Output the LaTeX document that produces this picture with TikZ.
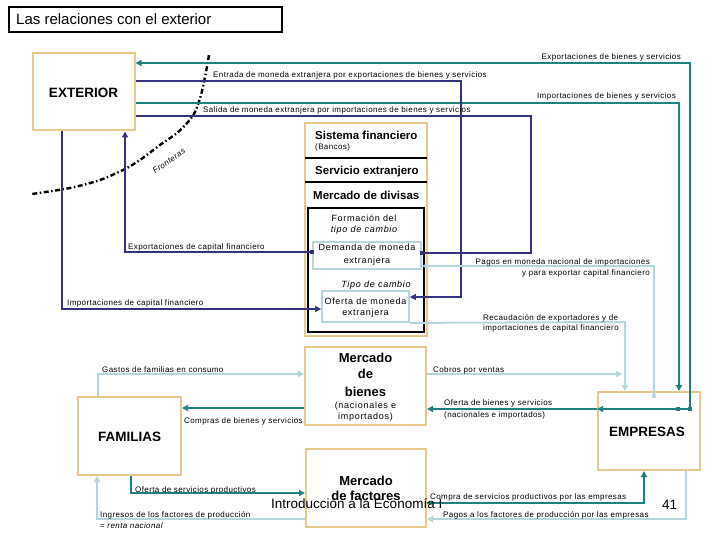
\documentclass[tikz,border=0pt]{standalone}
\usepackage{fontspec}
\setmainfont{Liberation Sans}
\newfontfamily\lblfont[LetterSpace=5]{Liberation Sans}
\newfontfamily\midfont[LetterSpace=8]{Liberation Sans}
\usetikzlibrary{arrows.meta}
\definecolor{tanc}{RGB}{232,200,140}
\definecolor{tealc}{RGB}{32,128,128}
\definecolor{navyc}{RGB}{51,51,128}
\definecolor{lbluec}{RGB}{182,214,222}
\newcommand\lblsz{\lblfont\fontsize{8}{9}\selectfont}
\newcommand\midsz{\midfont\fontsize{9}{11}\selectfont}
\newcommand\bigb{\bfseries\fontsize{13.5}{16}\selectfont}
\newcommand\sisb{\bfseries\fontsize{11.5}{14}\selectfont}
\tikzset{
  tanbox/.style={draw=tanc, line width=2pt, fill=white, inner sep=0pt},
  bluebox/.style={draw=lbluec, line width=1.8pt, fill=white, inner sep=0pt},
  tline/.style={draw=tealc, line width=2.4pt},
  nline/.style={draw=navyc, line width=2.4pt},
  bline/.style={draw=lbluec, line width=2pt},
  lab/.style={font=\lblsz, inner sep=0pt},
  sq/.style={minimum size=4.5pt, inner sep=0pt},
  frontier/.style={draw=black, line width=2.4pt, dash pattern=on 5pt off 2.5pt on 1.5pt off 2.5pt}
}
\begin{document}
\begin{tikzpicture}[x=1pt,y=-1pt,>={Triangle[length=6pt,width=6pt]}]
\useasboundingbox (0,0) rectangle (720,540);
\fill[white] (0,0) rectangle (720,540);

% title
\node[draw=black, line width=1.8pt, minimum width=273pt, minimum height=25pt, anchor=north west, inner sep=0pt] (title) at (8,6) {};
\node[anchor=base west, inner sep=0pt, font=\fontsize{15}{18}\selectfont] (titleT) at (16,25) {Las relaciones con el exterior};

% boxes
\node[tanbox, minimum width=102pt, minimum height=77pt] (ext) at (83.5,92) {};
\node[anchor=base, inner sep=0pt, font=\bigb] (extT) at (83.5,97.3) {EXTERIOR};

\node[tanbox, minimum width=122pt, minimum height=213pt] (sis) at (366,229.5) {};
\draw[black, line width=2pt] (305,158) -- (427,158);
\draw[black, line width=2pt] (305,182) -- (427,182);
\node[anchor=base west, inner sep=0pt, font=\sisb] (sisT) at (315,139.5) {Sistema financiero};
\node[anchor=base west, inner sep=0pt, font=\lblfont\fontsize{8}{9}\selectfont] (banT) at (315,149.5) {(Bancos)};
\node[anchor=base west, inner sep=0pt, font=\sisb] (serT) at (315,175) {Servicio extranjero};
\node[anchor=base west, inner sep=0pt, font=\sisb] (mdT) at (313,200) {Mercado de divisas};

\node[draw=black, line width=2.4pt, fill=white, minimum width=116pt, minimum height=124pt, inner sep=0pt] (div) at (366,270) {};
\node[anchor=base, inner sep=0pt, font=\midsz] (fT1) at (364,221.5) {Formación del};
\node[anchor=base, inner sep=0pt, font=\midsz\itshape] (fT2) at (364,232.5) {tipo de cambio};
\node[bluebox, minimum width=108pt, minimum height=27pt] (dem) at (367,255.5) {};
\node[anchor=base, inner sep=0pt, font=\midsz] (dT1) at (367,251) {Demanda de moneda};
\node[anchor=base, inner sep=0pt, font=\midsz] (dT2) at (367,263.3) {extranjera};
\node[anchor=base, inner sep=0pt, font=\midsz\itshape] (tcT) at (376,287.3) {Tipo de cambio};
\node[bluebox, minimum width=87pt, minimum height=31pt] (ofe) at (365.5,306.5) {};
\node[anchor=base, inner sep=0pt, font=\midsz] (oT1) at (365.5,304.3) {Oferta de moneda};
\node[anchor=base, inner sep=0pt, font=\midsz] (oT2) at (365.5,315.7) {extranjera};

\node[tanbox, minimum width=121pt, minimum height=78pt] (mb) at (365.5,386) {};
\node[anchor=base, inner sep=0pt, font=\bfseries\fontsize{13}{16}\selectfont] (mbT1) at (365.5,362) {Mercado};
\node[anchor=base, inner sep=0pt, font=\bfseries\fontsize{13}{16}\selectfont] (mbT2) at (365.5,378) {de};
\node[anchor=base, inner sep=0pt, font=\bfseries\fontsize{13}{16}\selectfont] (mbT3) at (365.5,396) {bienes};
\node[anchor=base, inner sep=0pt, font=\midsz] (mbT4) at (365.5,408) {(nacionales e};
\node[anchor=base, inner sep=0pt, font=\midsz] (mbT5) at (365.5,419) {importados)};

\node[tanbox, minimum width=120pt, minimum height=78pt] (mf) at (366,488) {};
\node[anchor=base, inner sep=0pt, font=\bfseries\fontsize{13}{16}\selectfont] (mfT1) at (366,485) {Mercado};
\node[anchor=base, inner sep=0pt, font=\bfseries\fontsize{13}{16}\selectfont] (mfT2) at (366,500) {de factores};

\node[tanbox, minimum width=103pt, minimum height=78pt] (fam) at (129.5,436) {};
\node[anchor=base, inner sep=0pt, font=\bigb] (famT) at (129.5,441.7) {FAMILIAS};

\node[tanbox, minimum width=102pt, minimum height=78pt] (emp) at (649,431) {};
\node[anchor=base, inner sep=0pt, font=\bigb] (empT) at (647,436.7) {EMPRESAS};

% frontier
\draw[frontier] plot[smooth] coordinates {(209,55) (206,72) (201,95) (195,112) (188,122) (177,133) (160,145) (140,160) (125,169) (100,180) (70,188) (32,194)};
\node[inner sep=0pt, rotate=35, font=\lblfont\fontsize{8}{9}\selectfont\itshape] (frT) at (169,161) {Fronteras};

% teal connectors
\coordinate (xb) at (690,409);
\coordinate (xbt) at (690,63);
\draw[tline,->] (xb) -- (xbt) -- (ext.east |- xbt);
\coordinate (ib) at (679,103);
\draw[tline,->] (ext.east |- ib) -- (ib) -- (ib |- emp.north);
\draw[tline,->] (xb) -- (emp.west |- xb);
\draw[tline,->] (emp.west |- xb) -- (mb.east |- xb);
\node[sq, fill=tealc] (dot1) at (xb) {};
\node[sq, fill=tealc] (dot2) at (678,409) {};
\coordinate (cb) at (0,408);
\draw[tline,->] (mb.west |- cb) -- (fam.east |- cb);
\coordinate (os) at (131,493);
\draw[tline,->] (os |- fam.south) -- (os) -- (mf.west |- os);
\coordinate (cs) at (644,503);
\draw[tline,->] (mf.east |- cs) -- (cs) -- (cs |- emp.south);

% navy connectors
\coordinate (en1) at (461,81);
\coordinate (en2) at (461,297);
\draw[nline,->] (ext.east |- en1) -- (en1) -- (en2) -- (ofe.east |- en2);
\coordinate (sa1) at (531,116);
\coordinate (sa2) at (531,253);
\draw[nline] (ext.east |- sa1) -- (sa1) -- (sa2) -- (dem.east |- sa2);
\node[sq, fill=navyc] (dot3) at (dem.east |- sa2) {};
\coordinate (ic) at (62,309);
\draw[nline,->] (ic |- ext.south) -- (ic) -- (ofe.west |- ic);
\coordinate (ec) at (125,252);
\draw[nline,->] (dem.west |- ec) -- (ec) -- (ec |- ext.south);
\node[sq, fill=navyc] (dot4) at (dem.west |- ec) {};

% light blue connectors
\coordinate (pm0) at (654,396);
\coordinate (pm) at (654,266);
\draw[bline,->] (pm0) -- (pm) -- (dem.east |- pm);
\node[sq, fill=lbluec, minimum size=4pt] (dot5) at (pm0) {};
\coordinate (re) at (625,322);
\draw[bline,->] (ofe.south east) -- (re) -- (re |- emp.north);
\coordinate (co) at (622,374);
\draw[bline,->] (mb.east |- co) -- (co);
\coordinate (ga) at (98,374);
\draw[bline,->] (ga |- fam.north) -- (ga) -- (mb.west |- ga);
\coordinate (in) at (97,519);
\draw[bline,->] (mf.west |- in) -- (in) -- (in |- fam.south);
\coordinate (pf) at (686,519);
\draw[bline,->] (pf |- emp.south) -- (pf) -- (mf.east |- pf);

% labels
\node[lab, anchor=base east] (L1) at (681,60) {Exportaciones de bienes y servicios};
\node[lab, anchor=base west] (L2) at (213,77.5) {Entrada de moneda extranjera por exportaciones de bienes y servicios};
\node[lab, anchor=base east] (L3) at (676,99) {Importaciones de bienes y servicios};
\node[lab, anchor=base west] (L4) at (203,112.5) {Salida de moneda extranjera por importaciones de bienes y servicios};
\node[lab, anchor=base west] (L5) at (128,249) {Exportaciones de capital financiero};
\node[lab, anchor=base west] (L6) at (67,305) {Importaciones de capital financiero};
\node[lab, anchor=base east] (L7) at (650,264) {Pagos en moneda nacional de importaciones};
\node[lab, anchor=base east] (L8) at (650,275) {y para exportar capital financiero};
\node[lab, anchor=base west] (L9) at (483,320) {Recaudación de exportadores y de};
\node[lab, anchor=base west] (L10) at (483,330.5) {importaciones de capital financiero};
\node[lab, anchor=base west] (L11) at (102,372) {Gastos de familias en consumo};
\node[lab, anchor=base west] (L12) at (184,423) {Compras de bienes y servicios};
\node[lab, anchor=base west] (L13) at (433,372) {Cobros por ventas};
\node[lab, anchor=base west] (L14) at (444,405.5) {Oferta de bienes y servicios};
\node[lab, anchor=base west] (L15) at (444,417) {(nacionales e importados)};
\node[lab, anchor=base west] (L16) at (135,492) {Oferta de servicios productivos};
\node[lab, anchor=base west] (L17) at (100,517) {Ingresos de los factores de producción};
\node[lab, anchor=base west] (L18) at (100,528) {= \textit{renta nacional}};
\node[lab, anchor=base west] (L19) at (430,499) {Compra de servicios productivos por las empresas};
\node[lab, anchor=base west] (L20) at (443,517.5) {Pagos a los factores de producción por las empresas};

% footer
\node[anchor=base west, inner sep=0pt, font=\fontsize{13.5}{16}\selectfont] (foot) at (271,508) {Introducción a la Economía I};
\node[anchor=base west, inner sep=0pt, font=\fontsize{13.5}{16}\selectfont] (pg) at (662,509) {41};
\end{tikzpicture}
\end{document}
